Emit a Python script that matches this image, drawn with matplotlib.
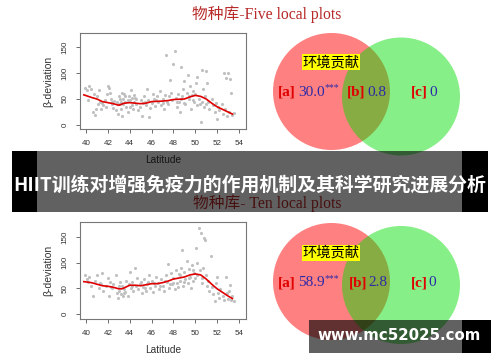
import matplotlib
matplotlib.use("Agg")
import matplotlib.pyplot as plt
from matplotlib.patches import Circle, Rectangle

# ---------------- data ----------------
titles = ["物种库-Five local plots", "物种库- Ten local plots"]
x_ticks = [40, 42, 44, 46, 48, 50, 52, 54]
y_ticks = [0, 50, 100, 150]

five_lat = [39.9, 40.1, 40.3, 40.5, 40.7, 40.2, 40.6, 40.8, 40.9, 41.2, 41.0, 41.3, 41.5, 41.6, 41.4,
            41.8, 41.9, 42.0, 42.1, 42.2, 42.3, 42.4, 42.5, 42.6, 42.7, 42.8, 42.9, 43.0, 43.1, 43.2,
            43.3, 43.4, 43.5, 43.6, 43.7, 43.8, 43.9, 44.0, 44.1, 44.2, 44.3, 44.4, 44.5, 44.6, 44.8,
            44.9, 45.0, 45.1, 45.2, 45.3, 45.5, 45.6, 45.7, 45.8, 45.9, 46.0, 46.1, 46.2, 46.3, 46.5,
            46.6, 46.8, 46.9, 47.0, 47.1, 47.3, 47.2, 47.4, 47.5, 47.6, 47.7, 47.8, 47.9, 48.0, 48.1,
            48.2, 48.3, 48.4, 48.5, 48.6, 48.7, 48.8, 48.9, 49.0, 49.1, 49.2, 49.3, 49.4, 49.5, 49.6,
            49.7, 49.8, 49.9, 50.0, 50.1, 50.2, 50.3, 50.4, 50.5, 50.6, 50.7, 50.8, 50.9, 51.0, 51.1,
            51.2, 51.3, 51.5, 51.6, 51.8, 51.9, 52.0, 52.1, 52.2, 52.4, 52.5, 52.6, 52.7, 52.8, 52.9,
            53.0, 53.1, 53.2, 53.3, 53.4, 53.5,
            43.2, 43.4, 43.6, 43.8, 44.0, 44.2, 44.4, 43.1, 43.3, 44.6, 42.9, 42.4, 48.3, 48.7, 49.0,
            49.4, 49.8, 50.2, 50.6, 51.0, 46.4, 47.0, 45.4, 41.1, 41.7]
five_val = [72, 67, 75, 70, 60, 48, 25, 20, 30, 68, 55, 45, 42, 38, 30,
            35, 60, 75, 72, 62, 50, 40, 33, 47, 28, 45, 22, 55, 40, 30,
            18, 50, 60, 45, 35, 25, 55, 48, 68, 38, 30, 45, 52, 40, 28,
            35, 48, 18, 42, 55, 38, 70, 48, 15, 33, 42, 60, 50, 36, 55,
            45, 65, 38, 50, 30, 135, 58, 45, 40, 55, 87, 62, 48, 118, 143,
            52, 35, 60, 45, 25, 112, 55, 70, 85, 40, 62, 97, 50, 75, 30,
            58, 65, 45, 60, 80, 93, 50, 40, 5, 105, 70, 35, 55, 103, 80,
            45, 30, 50, 38, 25, 42, 12, 35, 28, 40, 22, 100, 30, 90, 18,
            100, 25, 88, 62, 20, 24,
            45, 40, 55, 48, 35, 52, 58, 50, 62, 50, 40, 45, 45, 50, 42,
            55, 48, 38, 45, 40, 48, 42, 45, 40, 48]
five_fit_lat = [39.8, 40.5, 41.0, 41.5, 42.0, 42.5, 43.0, 43.5, 44.0, 45.0, 45.5, 46.0, 47.0, 47.5,
                48.0, 49.0, 49.5, 50.0, 50.5, 51.0, 51.5, 52.0, 52.5, 53.0, 53.4]
five_fit_val = [58, 53, 50, 45, 43, 41, 38, 42, 43, 41, 42, 45, 46, 47,
                49, 50, 54, 57, 55, 50, 42, 35, 30, 25, 21]

ten_lat = [39.9, 40.1, 40.3, 40.5, 40.6, 40.8, 41.0, 41.2, 41.3, 41.5, 41.6, 41.8, 42.0, 42.1, 42.2,
           42.4, 42.5, 42.7, 42.8, 42.9, 43.0, 43.1, 43.2, 43.3, 43.4, 43.5, 43.6, 43.7, 43.8, 43.9,
           44.0, 44.1, 44.2, 44.3, 44.5, 44.6, 44.7, 44.8, 45.0, 45.1, 45.2, 45.3, 45.5, 45.6, 45.8,
           45.9, 46.0, 46.1, 46.3, 46.4, 46.6, 46.7, 46.9, 47.0, 47.1, 47.3, 47.4, 47.5, 47.6, 47.8,
           47.9, 48.0, 48.1, 48.2, 48.3, 48.4, 48.5, 48.6, 48.7, 48.8, 48.9, 49.0, 49.1, 49.2, 49.3,
           49.4, 49.5, 49.6, 49.7, 49.8, 49.9, 50.0, 50.1, 50.2, 50.3, 50.4, 50.5, 50.6, 50.7, 50.8,
           50.9, 51.0, 51.1, 51.2, 51.3, 51.4, 51.5, 51.6, 51.8, 51.9, 52.0, 52.1, 52.2, 52.3, 52.5,
           52.6, 52.8, 52.9, 53.0, 53.1, 53.2, 53.3, 53.4, 53.5,
           43.0, 43.5, 44.2, 44.9, 45.4, 46.2, 46.8, 47.2, 48.0, 48.6, 49.0, 49.4, 49.8, 50.2, 50.6,
           41.4, 42.3, 40.2, 47.7, 45.7]
ten_val = [75, 68, 72, 55, 35, 65, 75, 50, 60, 80, 45, 55, 70, 35, 62,
           50, 58, 75, 40, 32, 45, 62, 38, 55, 35, 48, 42, 65, 35, 58,
           82, 50, 62, 45, 90, 55, 70, 48, 62, 40, 52, 68, 45, 58, 75,
           50, 65, 42, 55, 72, 60, 48, 68, 55, 45, 75, 62, 97, 50, 80,
           58, 70, 48, 85, 60, 52, 78, 65, 90, 124, 55, 82, 68, 103, 60,
           88, 72, 50, 95, 65, 80, 70, 128, 100, 167, 85, 158, 60, 90, 148,
           144, 75, 55, 65, 45, 113, 52, 38, 25, 60, 72, 40, 32, 48, 35,
           28, 72, 40, 30, 45, 57, 27, 35, 25,
           55, 40, 55, 58, 50, 60, 55, 65, 60, 75, 62, 70, 85, 75, 70,
           58, 52, 62, 58, 62]
ten_fit_lat = [39.8, 40.5, 41.0, 41.5, 42.0, 42.5, 43.0, 43.3, 43.7, 44.0, 44.5, 45.0, 45.5, 46.0,
               46.5, 47.0, 47.5, 48.0, 48.5, 49.0, 49.5, 50.0, 50.5, 51.0, 51.5, 52.0, 52.5, 53.0, 53.4]
ten_fit_val = [63, 61, 58, 55, 54, 52, 49, 49, 53, 56, 56, 55, 57, 59,
               59, 61, 64, 68, 70, 72, 76, 78, 76, 68, 58, 49, 42, 35, 30]

venn_label = "环境贡献"
venn_keys = ["[a]", "[b]", "[c]"]
five_venn = ["30.0", "0.8", "0"]
ten_venn = ["58.9", "2.8", "0"]
venn_sig = ["***", "", ""]

banner_text = "HIIT训练对增强免疫力的作用机制及其科学研究进展分析"
watermark = "www.mc52025.com"

# ---------------- figure ----------------
W, H = 500, 362
fig = plt.figure(figsize=(W / 100, H / 100), dpi=100)
fig.patch.set_facecolor("white")

bg = fig.add_axes([0, 0, 1, 1], zorder=0)
bg.set_xlim(0, W)
bg.set_ylim(H, 0)
bg.axis("off")

serif_cjk = ["Liberation Serif", "Noto Sans CJK SC"]
sans = ["Liberation Sans", "DejaVu Sans"]

panels = [
    dict(title=titles[0], title_y=14, ax_rect=(80, 33, 246, 129), ylim=(-7.7, 177),
         lat=five_lat, val=five_val, flat=five_fit_lat, fval=five_fit_val,
         cy=91.5, gcy=96.5, lab_y=62, row_y=92, nums=five_venn, title_color="#b82a2a",
         xs=[278, 298, 347, 367, 411, 429]),
    dict(title=titles[1], title_y=203, ax_rect=(80, 222, 246, 319), ylim=(-9.7, 179),
         lat=ten_lat, val=ten_val, flat=ten_fit_lat, fval=ten_fit_val,
         cy=281.5, gcy=285, lab_y=253, row_y=283, nums=ten_venn, title_color="#b82a2a",
         xs=[278, 298, 349, 368, 411, 428]),
]

for p in panels:
    # title
    bg.text(267, p["title_y"], p["title"], ha="center", va="center", fontsize=11.3,
            color=p["title_color"], family=serif_cjk)
    # venn
    bg.add_patch(Circle((331.5, p["cy"]), 58.5, facecolor=(1.0, 0.5, 0.5), edgecolor="none"))
    bg.add_patch(Circle((401, p["gcy"]), 59, facecolor=(0.0, 0.87, 0.0), alpha=0.47,
                        edgecolor="none"))
    bg.text(331, p["lab_y"], venn_label, ha="center", va="center", fontsize=10.3,
            color="black", family=["Noto Sans CJK SC"],
            bbox=dict(facecolor="#ffff00", edgecolor="none", pad=0.5))
    xs = p["xs"]
    for i in range(3):
        bg.text(xs[2 * i], p["row_y"], venn_keys[i], ha="left", va="center", fontsize=11,
                color="#e00000", fontweight="bold", family=["Liberation Serif"])
        bg.text(xs[2 * i + 1], p["row_y"], p["nums"][i], ha="left", va="center",
                fontsize=11, color="#2a2aa8", family=["Liberation Serif"])
        if venn_sig[i]:
            bg.text(xs[2 * i + 1] + 27, p["row_y"] - 4, venn_sig[i], ha="left", va="center",
                    fontsize=7, color="#2a2aa8", family=["Liberation Serif"])

    # scatter axes
    l, t_, r, b = p["ax_rect"]
    ax = fig.add_axes([l / W, 1 - b / H, (r - l) / W, (b - t_) / H], zorder=1)
    ax.scatter(p["lat"], p["val"], s=5, color="#c0c0c0", linewidths=0)
    ax.plot(p["flat"], p["fval"], color="#e00000", lw=1.2)
    ax.set_xlim(39.45, 54.64)
    ax.set_ylim(*p["ylim"])
    ax.set_xticks(x_ticks)
    ax.set_yticks(y_ticks)
    ax.set_xticklabels([str(v) for v in x_ticks], family=sans, fontsize=5.8, color="#333333")
    ax.set_yticklabels([str(v) for v in y_ticks], family=sans, fontsize=5.8, color="#333333",
                       rotation=90, va="center")
    ax.tick_params(length=3, width=0.6, color="#555555", pad=5)
    for s in ax.spines.values():
        s.set_color("#777777")
        s.set_linewidth(0.8)
    ax.set_xlabel("Latitude", family=sans, fontsize=7.3, color="#333333", labelpad=6)
    ax.set_ylabel("β-deviation", family=sans, fontsize=7.5, color="#333333", labelpad=6)

# ---------------- overlays ----------------
ov = fig.add_axes([0, 0, 1, 1], zorder=5)
ov.set_xlim(0, W)
ov.set_ylim(H, 0)
ov.axis("off")
ov.patch.set_alpha(0)

ov.add_patch(Rectangle((12, 151), 476, 61, facecolor="black", alpha=0.62, edgecolor="none"))
ov.add_patch(Rectangle((12, 151), 25, 61, facecolor="black", edgecolor="none"))
ov.add_patch(Rectangle((462, 151), 26, 61, facecolor="black", edgecolor="none"))
ov.text(250, 185, banner_text, ha="center", va="center", fontsize=13.6, color="white",
        fontweight="bold", family=["Noto Sans CJK SC", "DejaVu Sans"])

ov.add_patch(Rectangle((309, 320), 182, 33, facecolor="black", alpha=0.62, edgecolor="none"))
ov.add_patch(Rectangle((462, 320), 29, 33, facecolor="black", edgecolor="none"))
ov.text(399, 336, watermark, ha="center", va="center", fontsize=10.8, color="white",
        fontweight="bold", family=["DejaVu Sans"])

fig.savefig("out.png", dpi=100)
